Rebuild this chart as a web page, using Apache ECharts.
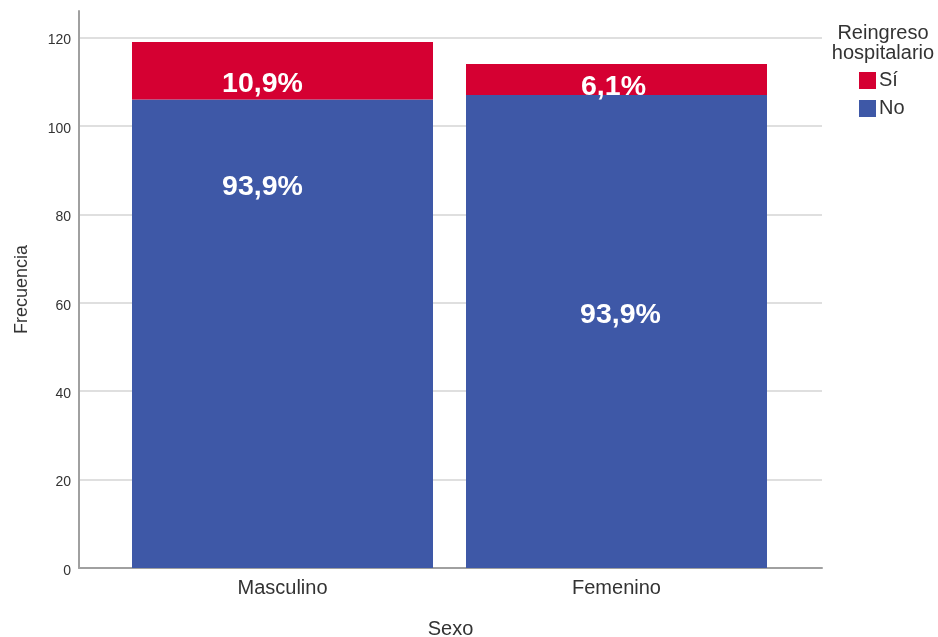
<!DOCTYPE html>
<html><head><meta charset="utf-8">
<script src="https://cdn.jsdelivr.net/npm/echarts@6/dist/echarts.min.js"></script>
<style>html,body{margin:0;padding:0;background:#fff}#c{width:938px;height:637px}</style>
</head><body><div id="c"></div>
<script>
const categories = ['Masculino', 'Femenino'];
const noValues = [106, 107];
const siValues = [13, 7];
const noLabels = ['93,9%', '93,9%'];
const siLabels = ['10,9%', '6,1%'];
const yTicks = [0, 20, 40, 60, 80, 100, 120];

// label offsets (style, not data)
const noOffsets = [[-20, -147], [4, -16]];
const siOffsets = [[-20, 13], [-3, 8]];

const FONT = 'Liberation Sans, Arial, sans-serif';
const chart = echarts.init(document.getElementById('c'));
const gridColors = yTicks.map(() => '#d4d4d4').concat(['rgba(0,0,0,0)']);

chart.setOption({
  animation: false,
  textStyle: { fontFamily: FONT },
  title: {
    text: 'Reingreso\nhospitalario', left: 883, top: 24, textAlign: 'center', padding: 0,
    textStyle: { fontSize: 20, fontWeight: 'normal', color: '#333', lineHeight: 19.5, fontFamily: FONT }
  },
  legend: {
    data: ['Sí', 'No'], orient: 'vertical', left: 859, top: 70.5, padding: 0,
    itemWidth: 17, itemHeight: 17, itemGap: 8, icon: 'rect',
    textStyle: { fontSize: 20, color: '#333', padding: [0, 0, 0, -2], fontFamily: FONT }
  },
  grid: [
    { left: 79, right: 116, top: 11, bottom: 69, outerBoundsMode: 'none', containLabel: false },
    { left: 115.5, right: 154.5, top: 11, bottom: 69, outerBoundsMode: 'none', containLabel: false }
  ],
  xAxis: [
    { type: 'value', gridIndex: 0, min: 0, max: 1, name: 'Sexo', nameLocation: 'middle', nameGap: 51,
      nameTextStyle: { fontSize: 20, color: '#333', fontFamily: FONT },
      axisLine: { show: true, lineStyle: { color: '#a0a0a0', width: 2 } },
      axisTick: { show: false }, axisLabel: { show: false }, splitLine: { show: false } },
    { type: 'category', gridIndex: 1, data: categories,
      axisLine: { show: false }, axisTick: { show: false },
      axisLabel: { fontSize: 20, color: '#333', margin: 10, fontFamily: FONT } }
  ],
  yAxis: [
    { type: 'value', gridIndex: 0, min: 0, max: 126, interval: 20, name: 'Frecuencia', nameLocation: 'middle', nameGap: 48,
      nameTextStyle: { fontSize: 18, color: '#333', fontFamily: FONT },
      axisLine: { show: true, lineStyle: { color: '#a0a0a0', width: 2 } },
      axisTick: { show: false },
      axisLabel: { fontSize: 14, color: '#333', margin: 8, showMaxLabel: false, verticalAlign: 'top', lineHeight: 6, fontFamily: FONT },
      splitLine: { show: true, lineStyle: { color: gridColors, width: 1.5 } } },
    { type: 'value', gridIndex: 1, min: 0, max: 126, show: false, splitLine: { show: false } }
  ],
  series: [
    { name: 'No', type: 'bar', stack: 's', xAxisIndex: 1, yAxisIndex: 1, barWidth: 301,
      itemStyle: { color: '#3e58a7' },
      data: noValues.map((v, i) => ({ value: v, label: { formatter: noLabels[i], offset: noOffsets[i] } })),
      label: { show: true, position: 'inside', color: '#fff', fontSize: 28.5, fontWeight: 'bold', fontFamily: FONT } },
    { name: 'Sí', type: 'bar', stack: 's', xAxisIndex: 1, yAxisIndex: 1, barWidth: 301,
      itemStyle: { color: '#d50032' },
      data: siValues.map((v, i) => ({ value: v, label: { formatter: siLabels[i], offset: siOffsets[i] } })),
      label: { show: true, position: 'inside', color: '#fff', fontSize: 28.5, fontWeight: 'bold', fontFamily: FONT } }
  ]
});
</script></body></html>
